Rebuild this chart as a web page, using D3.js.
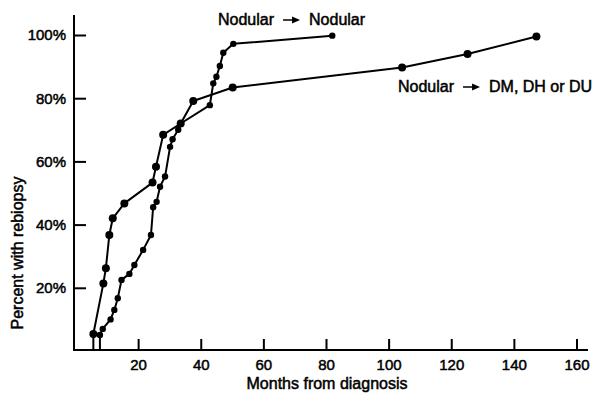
<!DOCTYPE html>
<html>
<head>
<meta charset="utf-8">
<script src="https://cdn.jsdelivr.net/npm/d3@7"></script>
<style>
  body { margin: 0; background: #fff; }
  text { font-family: "Liberation Sans", Arial, Helvetica, sans-serif; fill: #000; }
</style>
</head>
<body>
<svg id="chart" width="599" height="399"></svg>
<script>
// months from diagnosis / percent with rebiopsy
var dmMonths = [5.7, 5.7, 8.9, 9.7, 10.8, 11.9, 15.6, 24.6, 25.7, 28, 33.6, 37.6, 50.2, 104.3, 125.2, 147.2];
var dmPercent = [0, 5.4, 21.4, 26.2, 36.7, 42, 46.7, 53.3, 58.3, 68.4, 72, 79.1, 83.4, 89.7, 94, 99.5];

var nodMonths = [7.8, 7.8, 8.7, 11.2, 12.4, 13.5, 14.7, 17.2, 18.8, 21.6, 24.1, 24.8, 25.9, 27, 28.6, 30.2, 31, 32.8, 33.6, 42.9, 44, 45, 46.1, 47.2, 50.4, 82];
var nodPercent = [0, 5.1, 7, 10, 13, 16.7, 22.5, 24.4, 27.2, 32, 36.7, 45.5, 47.2, 52, 55.2, 64.6, 67, 70, 72, 77.8, 84.7, 86.8, 90.2, 94.4, 97.2, 99.8];

var xTicks = [20, 40, 60, 80, 100, 120, 140, 160];
var yTicks = [20, 40, 60, 80, 100];

var svg = d3.select("#chart");

var x = d3.scaleLinear().domain([0, 160]).range([75.5, 576.5]);
var y = d3.scaleLinear().domain([0, 100]).range([351, 35]);

var ink = 0.5; // scanned text looks heavier than plain regular

// axis lines (drawn by hand, they run past the data range)
svg.append("line")
    .attr("x1", 74).attr("x2", 74).attr("y1", 15).attr("y2", 351)
    .attr("stroke", "#000").attr("stroke-width", 2);
svg.append("line")
    .attr("x1", 73).attr("x2", 588).attr("y1", 350).attr("y2", 350)
    .attr("stroke", "#000").attr("stroke-width", 2);

// ticks point inward
var yAxis = d3.axisLeft(y).tickValues(yTicks).tickSize(-12).tickPadding(8)
    .tickFormat(function (d) { return d + "%"; });
var gY = svg.append("g").attr("transform", "translate(74,0)").call(yAxis);
gY.select(".domain").remove();
gY.selectAll("line").attr("stroke", "#000").attr("stroke-width", 2);
gY.selectAll("text").attr("font-size", 15).attr("font-family", null)
    .attr("stroke", "#000").attr("stroke-width", ink);

var xAxis = d3.axisBottom(x).tickValues(xTicks).tickSize(-11).tickPadding(9)
    .tickFormat(d3.format("d"));
var gX = svg.append("g").attr("transform", "translate(0,350)").call(xAxis);
gX.select(".domain").remove();
gX.selectAll("line").attr("stroke", "#000").attr("stroke-width", 2);
gX.selectAll("text").attr("font-size", 15).attr("font-family", null)
    .attr("stroke", "#000").attr("stroke-width", ink);

// axis titles
svg.append("text")
    .attr("x", 327).attr("y", 389)
    .attr("text-anchor", "middle").attr("font-size", 16)
    .attr("stroke", "#000").attr("stroke-width", ink)
    .text("Months from diagnosis");
svg.append("text")
    .attr("transform", "translate(23,253) rotate(-90)")
    .attr("text-anchor", "middle").attr("font-size", 16)
    .attr("stroke", "#000").attr("stroke-width", ink)
    .text("Percent with rebiopsy");

var line = d3.line()
    .x(function (d) { return x(d[0]); })
    .y(function (d) { return y(d[1]); });

function drawCurve(months, percent, r) {
    var pts = d3.zip(months, percent);
    svg.append("path")
        .datum(pts)
        .attr("d", line)
        .attr("fill", "none")
        .attr("stroke", "#000")
        .attr("stroke-width", 2)
        .attr("stroke-linejoin", "round");
    // first point is the drop to the axis, no dot there
    svg.selectAll(null)
        .data(pts.slice(1))
        .enter()
        .append("circle")
        .attr("cx", function (d) { return x(d[0]); })
        .attr("cy", function (d) { return y(d[1]); })
        .attr("r", r)
        .attr("fill", "#000");
}

drawCurve(dmMonths, dmPercent, 4);
drawCurve(nodMonths, nodPercent, 3.2);

// "A -> B" labels with a small filled arrow
function arrowLabel(x0, y0, left, right) {
    var g = svg.append("g").attr("transform", "translate(" + x0 + "," + y0 + ")");
    var t1 = g.append("text").attr("font-size", 16)
        .attr("stroke", "#000").attr("stroke-width", ink).text(left);
    var w = t1.node().getComputedTextLength();
    var ax = w + 9;
    g.append("line")
        .attr("x1", ax).attr("x2", ax + 10).attr("y1", -5).attr("y2", -5)
        .attr("stroke", "#000").attr("stroke-width", 1.5);
    g.append("path")
        .attr("d", "M" + (ax + 9) + "," + (-8.5) + "L" + (ax + 17) + "," + (-5) + "L" + (ax + 9) + "," + (-1.5) + "Z")
        .attr("fill", "#000");
    g.append("text").attr("x", ax + 26).attr("font-size", 16)
        .attr("stroke", "#000").attr("stroke-width", ink).text(right);
}

arrowLabel(218, 25, "Nodular", "Nodular");
arrowLabel(398, 92, "Nodular", "DM, DH or DU");
</script>
</body>
</html>
